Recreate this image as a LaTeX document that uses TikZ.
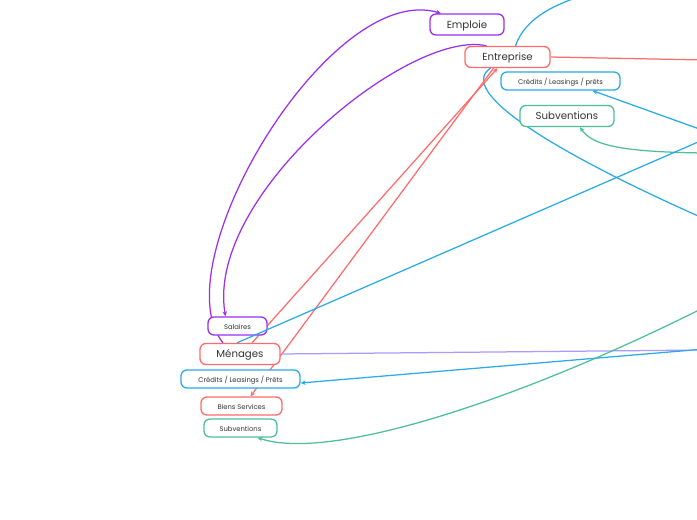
\documentclass[tikz,border=0pt]{standalone}
\usepackage{fontspec}
\setmainfont{Poppins}
\usetikzlibrary{arrows.meta,backgrounds}
\definecolor{violet}{HTML}{9B2EF0}
\definecolor{lilac}{HTML}{A99BFF}
\definecolor{rouge}{HTML}{FF6B6B}
\definecolor{bleu}{HTML}{2AAAE8}
\definecolor{vert}{HTML}{4CBF98}
\definecolor{texte}{HTML}{333333}
\tikzset{
  topic/.style={draw=#1, line width=1.3pt, rounded corners=6pt, fill=white,
    text=texte, inner sep=0pt, minimum height=21pt, text height=0.8em, text depth=0.04em,
    font=\fontsize{10.2}{12}\selectfont},
  subtopic/.style={topic=#1, minimum height=18pt, font=\fontsize{6.8}{8}\selectfont},
  link/.style={draw=#1, line width=1.25pt},
  tip/.style={link=#1, -{Stealth[length=5pt,width=4.5pt]}},
}
\begin{document}
\begin{tikzpicture}[x=1pt,y=-1pt]
  \useasboundingbox (0,0) rectangle (697,520);
  \clip (0,0) rectangle (697,520);
  % nodes
  \node[topic=violet, minimum width=74pt] (emploie) at (467,24.5) {Emploie};
  \node[topic=rouge, minimum width=85pt] (entreprise) at (507.5,57) {Entreprise};
  \node[subtopic=bleu, minimum width=119pt] (creditsE) at (560.5,81) {Crédits / Leasings / prêts};
  \node[topic=vert, minimum width=94pt] (subvE) at (567,116) {Subventions};
  \node[subtopic=violet, minimum width=59pt] (salaires) at (237.5,326) {Salaires};
  \node[topic=rouge, minimum width=80pt] (menages) at (240,354) {Ménages};
  \node[subtopic=bleu, minimum width=119pt] (creditsM) at (240.5,379) {Crédits / Leasings / Prêts};
  \node[subtopic=rouge, minimum width=81pt] (biens) at (241.5,406) {Biens Services};
  \node[subtopic=vert, minimum width=73pt] (subvM) at (240.5,428) {Subventions};
  % points outside the page
  \coordinate (oTop) at (595,-8);
  \coordinate (oRouge) at (705,60);
  \coordinate (oCredE) at (705,131);
  \coordinate (oSubvE) at (705,153);
  \coordinate (oSal) at (705,139);
  \coordinate (oBleuB) at (705,219);
  \coordinate (oSubvM) at (705,307);
  \coordinate (oMen) at (705,350);
  \coordinate (oCredM) at (705,349);
  % links
  \draw[link=bleu] ([xshift=-3pt]menages.north) -- (oSal);
  \begin{pgfonlayer}{background}
  \draw[tip=violet] ([xshift=-17pt]menages.north) .. controls (160,265) and (330,-20) .. ([xshift=-26pt]emploie.north);
  \draw[tip=violet] ([xshift=-21pt]entreprise.north) .. controls (410,28) and (205,195) .. ([xshift=-12pt]salaires.north);
  \draw[link=bleu] ([xshift=8pt]entreprise.north) .. controls (525,18) and (555,3) .. (oTop);
  \draw[link=bleu] ([xshift=-17pt]entreprise.south) .. controls (455,92) and (560,155) .. (oBleuB);
  \draw[link=rouge] (entreprise.east) -- (oRouge);
  \draw[tip=bleu] (oCredE) -- ([xshift=32pt]creditsE.south);
  \draw[tip=vert] (oSubvE) .. controls (620,152) and (592,145) .. ([xshift=13pt]subvE.south);
  \draw[tip=rouge] ([xshift=12pt]menages.north) -- ([xshift=-10pt]entreprise.south);
  \draw[tip=rouge] ([xshift=-14pt]entreprise.south) -- ([xshift=9pt]biens.north);
  \draw[link=lilac] (menages.east) -- (oMen);
  \draw[tip=bleu] (oCredM) -- ([yshift=-4pt]creditsM.east);
  \draw[tip=vert] (oSubvM) .. controls (520,400) and (330,462) .. ([xshift=17pt]subvM.south);
  \end{pgfonlayer}
\end{tikzpicture}
\end{document}
